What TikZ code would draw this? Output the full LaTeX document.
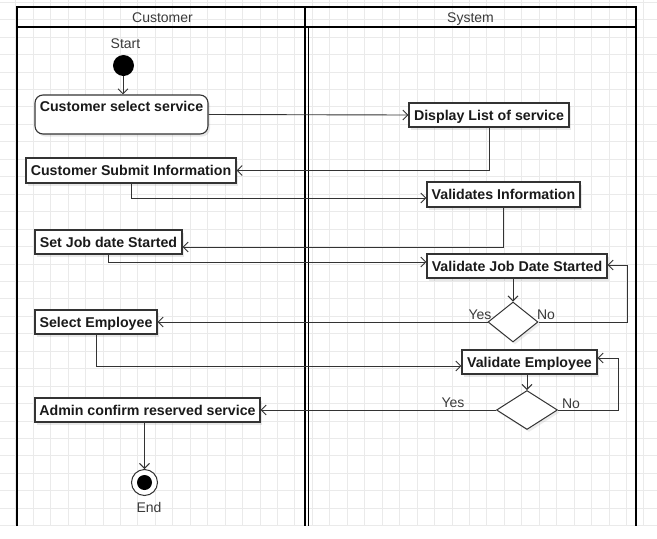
\documentclass[tikz,border=0pt]{standalone}
\usepackage{fontspec}
\setmainfont{Liberation Sans}
\usetikzlibrary{arrows.meta,shapes.geometric,shadows}
\definecolor{linec}{HTML}{333333}
\definecolor{txtc}{HTML}{1A1A1A}
\definecolor{hdrc}{HTML}{3A3A3A}
\definecolor{gridc}{HTML}{EAEAEA}
\begin{document}
\begin{tikzpicture}[x=1pt,y=-1pt,
  act/.style={draw=linec, line width=1.1pt, fill=white, text=txtc,
    font=\fontsize{14.2}{17}\selectfont\bfseries, inner sep=0pt,
    text height=10pt, text depth=0pt,
    drop shadow={shadow xshift=2pt,shadow yshift=-2.5pt,opacity=0.18}},
  dec/.style={diamond, draw=linec, line width=1pt, fill=white, inner sep=0pt,
    drop shadow={shadow xshift=2pt,shadow yshift=-2.5pt,opacity=0.15}},
  arr/.style={draw=linec, line width=0.9pt, -{Straight Barb[length=5pt,width=10pt]}},
  frame/.style={draw=black, line width=1.6pt},
  hdr/.style={text=hdrc, font=\fontsize{14}{17}\selectfont, inner sep=0pt, text height=10pt, text depth=0pt},
  lbl/.style={text=hdrc, font=\fontsize{14}{17}\selectfont, inner sep=0pt, text height=10pt, text depth=0pt}
]
\useasboundingbox (0,0) rectangle (657,539);
\fill[white] (0,0) rectangle (657,539);
% background grid
\foreach \i in {0,...,37} \draw[gridc, line width=0.5pt] ({15.5+17.45*\i},0) -- ({15.5+17.45*\i},526);
\foreach \j in {0,...,30} \draw[gridc, line width=0.5pt] (0,{2+17.45*\j}) -- (657,{2+17.45*\j});
% swimlanes
\draw[frame] (17,526) -- (17,7) -- (636,7) -- (636,526);
\draw[frame] (17,27) -- (636,27);
\draw[frame] (305,7) -- (305,526);
\draw[draw=black, line width=1.2pt] (308.3,27) -- (308.3,526);
\node[hdr] (hc) at (162.5,17.5) {Customer};
\node[hdr] (hs) at (470.5,17.5) {System};

% start
\node[circle, fill=black, minimum size=21pt, inner sep=0pt] (st) at (123.5,65.5) {};
\node[lbl] (stl) at (125.5,43) {Start};

% actions
\node[act, rounded corners=8pt, minimum width=173pt, minimum height=39pt,
  text height=14.5pt, text depth=20.5pt, inner ysep=2pt] (csel) at (121.5,114.5) {Customer select service};
\node[act, minimum width=160pt, minimum height=24pt] (disp) at (489,115) {Display List of service};
\node[act, minimum width=210pt, minimum height=25pt] (csub) at (131,170.5) {Customer Submit Information};
\node[act, minimum width=153pt, minimum height=25pt] (vinf) at (503.5,194.5) {Validates Information};
\node[act, minimum width=147pt, minimum height=24pt] (sjob) at (108.5,242) {Set Job date Started};
\node[act, minimum width=180pt, minimum height=24pt] (vjob) at (517,266) {Validate Job Date Started};
\node[dec, minimum width=50pt, minimum height=40pt] (d1) at (513,322) {};
\node[act, minimum width=122pt, minimum height=24pt] (semp) at (96,322) {Select Employee};
\node[act, minimum width=135pt, minimum height=24pt] (vemp) at (529.5,362) {Validate Employee};
\node[dec, minimum width=61pt, minimum height=39pt] (d2) at (527,410) {};
\node[act, minimum width=225pt, minimum height=24pt] (adm) at (147.5,410) {Admin confirm reserved service};

% end
\node[circle, draw=linec, line width=1pt, fill=white, minimum size=26pt, inner sep=0pt] (en) at (144.5,482.5) {};
\fill[black] (en.center) circle (7.5pt);
\node[lbl] (enl) at (149,507) {End};

% guard labels
\node[lbl] (y1) at (480,314) {Yes};
\node[lbl] (n1l) at (546,314) {No};
\node[lbl] (y2) at (453,402) {Yes};
\node[lbl] (n2l) at (571,403) {No};

\coordinate (nx1) at (627,0);
\coordinate (nx2) at (618,0);

% flows
\draw[arr] (st.south -| 123,0) -- (csel.north -| 123,0);
\draw[arr] (csel.east) -- (disp.west);
\draw[arr] (disp.south) |- (csub.east);
\draw[arr] (csub.south) |- ([yshift=-3.5pt]vinf.west);
\draw[arr] (vinf.south) |- ([yshift=-5pt]sjob.east);
\draw[arr] (sjob.south) |- ([yshift=4pt]vjob.west);
\draw[arr] (vjob.south -| d1.north) -- (d1.north);
\draw[arr] (d1.west) -- (semp.east);
\draw[arr] (d1.east) -- (d1.east -| nx1) -- ([yshift=1pt]vjob.east -| nx1) -- ([yshift=1pt]vjob.east);
\draw[arr] (semp.south) |- ([yshift=-4pt]vemp.west);
\draw[arr] (vemp.south -| d2.north) -- (d2.north);
\draw[arr] (d2.west) -- (adm.east);
\draw[arr] (d2.east) -- (d2.east -| nx2) -- ([yshift=4pt]vemp.east -| nx2) -- ([yshift=4pt]vemp.east);
\draw[arr] (adm.south -| en.north) -- (en.north);
\end{tikzpicture}
\end{document}
